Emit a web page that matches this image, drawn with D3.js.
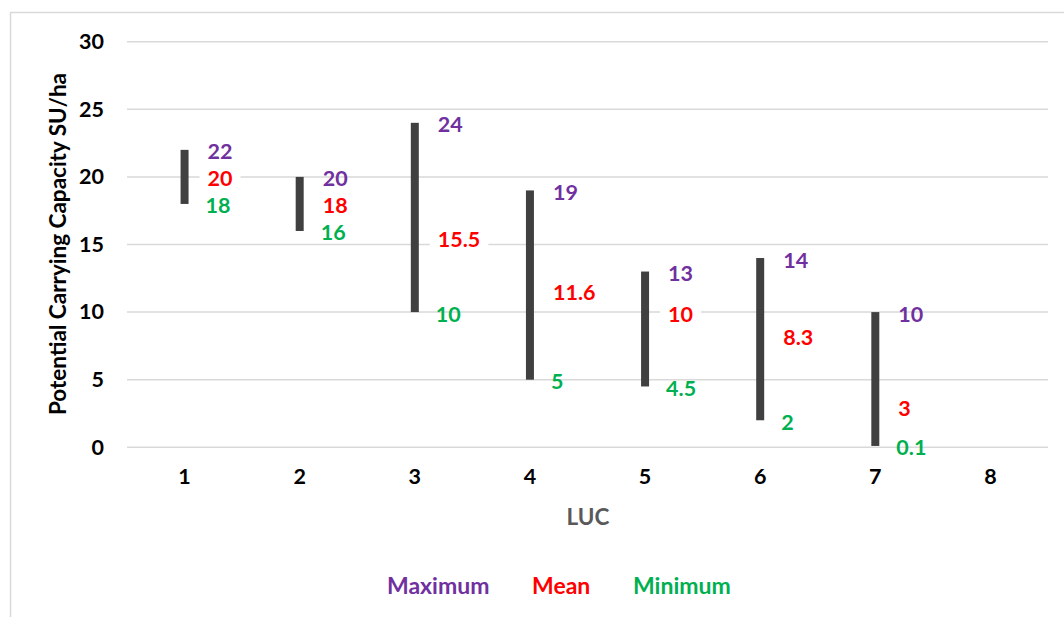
<!DOCTYPE html>
<html>
<head>
<meta charset="utf-8">
<script src="https://cdn.jsdelivr.net/npm/d3@7/dist/d3.min.js"></script>
<style>
  html, body { margin: 0; padding: 0; background: #fff; }
  svg { display: block; font-family: Lato, "Open Sans", sans-serif; font-weight: bold; }
</style>
</head>
<body>
<svg id="chart" width="1064" height="617"></svg>
<script>
// Land Use Capability classes and carrying capacity ranges (SU/ha)
const categories = ["1", "2", "3", "4", "5", "6", "7", "8"];
const maxValues  = [22, 20, 24, 19, 13, 14, 10, null];
const meanValues = [20, 18, 15.5, 11.6, 10, 8.3, 3, null];
const minValues  = [18, 16, 10, 5, 4.5, 2, 0.1, null];
const yTicks = [0, 5, 10, 15, 20, 25, 30];

const colors = { max: "#7030A0", mean: "#FF0000", min: "#00B050", bar: "#404040", grid: "#D9D9D9" };
const tickFont = 21.5, labelFont = 21.5, titleFont = 22.5, legendFont = 23;

const svg = d3.select("#chart");

// Chart area outline
svg.append("rect")
  .attr("x", 10.5).attr("y", 12.5)
  .attr("width", 1100).attr("height", 700)
  .attr("fill", "none").attr("stroke", "#D9D9D9").attr("stroke-width", 1.5);

const plot = { left: 127, right: 1048, top: 41.7, bottom: 447.3 };

const x = d3.scaleBand().domain(categories).range([plot.left, plot.right]);
const y = d3.scaleLinear().domain([0, 30]).range([plot.bottom, plot.top]);

// Horizontal gridlines
svg.append("g").selectAll("line").data(yTicks).join("line")
  .attr("x1", plot.left).attr("x2", plot.right)
  .attr("y1", d => y(d)).attr("y2", d => y(d))
  .attr("stroke", colors.grid).attr("stroke-width", 1.5);

// Y axis labels
const yAxis = svg.append("g")
  .attr("transform", `translate(${plot.left - 23},0)`)
  .call(d3.axisLeft(y).tickValues(yTicks).tickSize(0).tickPadding(0));
yAxis.select(".domain").remove();
yAxis.selectAll("text")
  .attr("font-family", "Lato, 'Open Sans', sans-serif")
  .attr("font-weight", "bold").attr("font-size", tickFont).attr("fill", "#000");

// X axis labels
const xAxis = svg.append("g")
  .attr("transform", `translate(0,${plot.bottom + 21})`)
  .call(d3.axisBottom(x).tickSize(0).tickPadding(0));
xAxis.select(".domain").remove();
xAxis.selectAll("text")
  .attr("font-family", "Lato, 'Open Sans', sans-serif")
  .attr("font-weight", "bold").attr("font-size", tickFont).attr("fill", "#000");

// Axis titles
svg.append("text")
  .attr("transform", `translate(66,244) rotate(-90)`)
  .attr("text-anchor", "middle")
  .attr("font-size", titleFont).attr("fill", "#000")
  .text("Potential Carrying Capacity SU/ha");

svg.append("text")
  .attr("x", 588).attr("y", 516)
  .attr("text-anchor", "middle").attr("dominant-baseline", "central")
  .attr("font-size", titleFont).attr("fill", "#595959")
  .text("LUC");

// High-low bars
const rows = categories.map((c, i) => ({
  cat: c, max: maxValues[i], mean: meanValues[i], min: minValues[i]
})).filter(d => d.max !== null);

const barW = 8;
svg.append("g").selectAll("rect").data(rows).join("rect")
  .attr("x", d => x(d.cat) + x.bandwidth() / 2 - barW / 2)
  .attr("width", barW)
  .attr("y", d => y(d.max))
  .attr("height", d => y(d.min) - y(d.max))
  .attr("fill", colors.bar);

// Value labels to the right of each bar
const labels = svg.append("g");

function addLabels(key, color, dx, boxed) {
  const g = labels.append("g");
  const items = g.selectAll("g").data(rows).join("g")
    .attr("transform", d => `translate(${x(d.cat) + x.bandwidth() / 2 + dx},${y(d[key]) + 1.5})`);
  const txt = items.append("text")
    .attr("dominant-baseline", "central")
    .attr("font-size", labelFont).attr("fill", color)
    .text(d => d[key]);
  if (boxed) {
    txt.each(function () {
      const b = this.getBBox();
      d3.select(this.parentNode).insert("rect", "text")
        .attr("x", b.x - 8).attr("y", b.y - 1)
        .attr("width", b.width + 16).attr("height", b.height + 2)
        .attr("fill", "#fff");
    });
  }
}
addLabels("max", colors.max, 23, false);
addLabels("mean", colors.mean, 23, true);
addLabels("min", colors.min, 21, false);

// Legend
const legend = [
  { name: "Maximum", color: colors.max, x: 387 },
  { name: "Mean", color: colors.mean, x: 532 },
  { name: "Minimum", color: colors.min, x: 633 }
];
svg.append("g").selectAll("text").data(legend).join("text")
  .attr("x", d => d.x).attr("y", 585)
  .attr("dominant-baseline", "central")
  .attr("font-size", legendFont).attr("fill", d => d.color)
  .text(d => d.name);
</script>
</body>
</html>
